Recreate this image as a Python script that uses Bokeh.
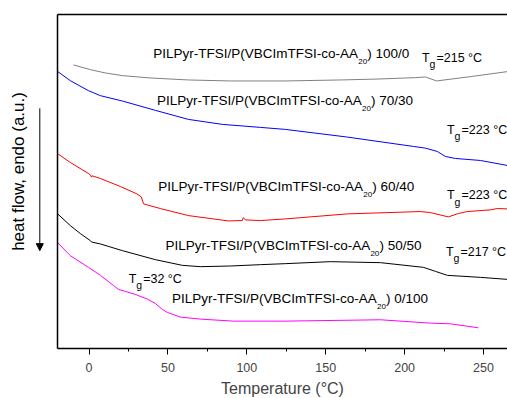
from bokeh.plotting import figure
from bokeh.layouts import row
from bokeh.models import (Range1d, LinearAxis, SingleIntervalTicker, FixedTicker,
                          Arrow, NormalHead)
from bokeh.core.properties import value
from bokeh.embed import file_html
from bokeh.resources import INLINE

# ---------------- data ----------------
t_100_0 = [-9.9, 0.8, 10.3, 21.1, 38.8, 62.9, 89.5, 124.4, 159.3, 184.6, 206.8, 213.2, 220.2, 241.8, 265.1]
hf_100_0 = [84.9, 83.5, 82.5, 81.7, 81.0, 80.4, 80.1, 80.1, 80.4, 80.7, 81.1, 81.3, 80.1, 81.4, 82.9]

t_70_30 = [-20.1, -11.9, -0.4, 7.2, 21.1, 42.0, 62.9, 84.5, 108.6, 124.4, 163.7, 205.5, 213.1, 220.7, 225.8, 232.1, 248.0, 265.1]
hf_70_30 = [83.0, 80.2, 77.2, 75.7, 74.1, 71.3, 68.6, 67.1, 66.2, 65.6, 63.3, 60.5, 60.0, 59.0, 57.5, 56.9, 56.3, 54.8]

t_60_40 = [-20.1, -11.9, -0.4, 1.0, 1.5, 2.0, 7.2, 19.8, 30.3, 33.1, 34.5, 45.2, 62.9, 88.3, 97.1, 97.8, 99.1, 108.6, 124.4, 163.7, 210.0, 216.3, 227.7, 234.0, 239.7, 254.3, 258.7, 265.1]
hf_60_40 = [58.4, 55.7, 52.4, 51.9, 51.3, 51.7, 50.9, 48.5, 46.3, 45.4, 43.3, 41.9, 39.8, 38.2, 38.3, 39.2, 38.5, 38.3, 38.8, 40.3, 41.0, 40.7, 39.4, 40.4, 41.0, 41.5, 41.9, 41.8]

t_50_50 = [-20.1, -11.9, -5.5, 0.8, 1.5, 7.2, 21.1, 42.0, 59.1, 70.5, 89.5, 108.6, 124.4, 152.9, 184.7, 211.9, 219.5, 227.1, 248.0, 265.1]
hf_50_50 = [40.4, 36.8, 34.4, 32.3, 31.9, 31.3, 29.3, 26.6, 24.9, 24.5, 24.7, 25.1, 25.4, 26.0, 25.7, 24.3, 23.1, 21.9, 21.3, 20.7]

t_0_100 = [-20.1, -11.9, -0.4, 7.2, 15.4, 18.6, 23.0, 29.3, 36.9, 42.0, 46.5, 49.6, 57.9, 70.5, 91.4, 124.4, 184.7, 216.3, 229.0, 246.7]
hf_0_100 = [31.8, 27.8, 24.3, 21.9, 18.9, 17.7, 17.1, 16.2, 14.8, 13.5, 11.7, 10.8, 9.4, 8.8, 8.2, 8.2, 8.6, 7.6, 7.4, 6.2]

# text content
name_prefix = "PILPyr-TFSI/P(VBCImTFSI-co-AA"
name_sub = "20"
ratios = ["100/0", "70/30", "60/40", "50/50", "0/100"]
tg_values = ["215", "223", "223", "217", "32"]
y_title = "heat flow, endo (a.u.)"
x_title = "Temperature (°C)"

# ---------------- annotation positions ----------------
name_x = [40.7, 43.1, 43.9, 48.4, 52.6]
name_y = [86.7, 72.8, 47.1, 29.3, 13.4]
tg_x = [211.0, 226.9, 226.9, 226.2, 25.1]
tg_y = [85.7, 64.1, 44.5, 27.5, 19.4]
# y title / arrow in the left strip (same vertical units as the plot)
y_title_pos = (18, 53.0)
arrow_x = 39.3
arrow_y = (71.9, 29.3)

FONT_NAME = "Liberation Sans"
FONT = value(FONT_NAME)
LEFT_W = 50

# ---------------- main plot ----------------
p = figure(frame_width=450, frame_height=334,
           x_range=Range1d(-20, 265.2), y_range=Range1d(0, 100),
           output_backend="svg", toolbar_location=None,
           min_border_left=7, min_border_right=0, min_border_top=14, min_border_bottom=0,
           x_axis_label=x_title)
p.grid.visible = False
p.outline_line_color = None
p.background_fill_color = "white"

series = [
    (t_100_0, hf_100_0, "#808080"),
    (t_70_30, hf_70_30, "#0000ff"),
    (t_60_40, hf_60_40, "#ff0000"),
    (t_50_50, hf_50_50, "#000000"),
    (t_0_100, hf_0_100, "#ff00ff"),
]
for t, hf, c in series:
    p.line(t, hf, line_color=c, line_width=1)

common = dict(text_font=FONT, text_color="black", text_baseline="alphabetic", text_align="left")
p.text(x=name_x, y=name_y, text=[name_prefix] * len(ratios), y_offset=-5,
       text_font_size="13.5px", **common)
p.text(x=name_x, y=name_y, text=[name_sub] * len(ratios), x_offset=205, y_offset=3,
       text_font_size="8px", **common)
p.text(x=name_x, y=name_y, text=[") " + r for r in ratios], x_offset=214, y_offset=-5,
       text_font_size="13.5px", **common)

p.text(x=tg_x, y=tg_y, text=["T"] * len(tg_values), y_offset=-4.5,
       text_font_size="12.5px", **common)
p.text(x=tg_x, y=tg_y, text=["g"] * len(tg_values), x_offset=7.5, y_offset=1.7,
       text_font_size="10.5px", **common)
p.text(x=tg_x, y=tg_y, text=["=" + v + " °C" for v in tg_values], x_offset=14.5, y_offset=-4.5,
       text_font_size="12.5px", **common)

xa = p.xaxis[0]
xa.ticker = SingleIntervalTicker(interval=50, num_minor_ticks=2)
xa.major_tick_in = 0
xa.major_tick_out = 6
xa.minor_tick_in = 0
xa.minor_tick_out = 3
xa.axis_line_width = 1.5
xa.major_label_text_font = FONT_NAME
xa.major_label_text_font_size = "12.5px"
xa.major_label_standoff = 8
xa.axis_label_text_font = FONT_NAME
xa.axis_label_text_font_size = "16px"
xa.axis_label_text_font_style = "normal"
xa.axis_label_standoff = 5

ya = p.yaxis[0]
ya.ticker = FixedTicker(ticks=[])
ya.major_tick_out = 0
ya.minor_tick_out = 0
ya.axis_line_width = 1.5

top = LinearAxis(ticker=FixedTicker(ticks=[]), axis_line_width=1.5,
                 major_tick_out=0, minor_tick_out=0)
p.add_layout(top, "above")

# ---------------- left strip: y title and arrow ----------------
side = figure(frame_width=LEFT_W, frame_height=334,
              x_range=Range1d(0, LEFT_W), y_range=Range1d(0, 100),
              x_axis_type=None, y_axis_type=None, output_backend="svg",
              toolbar_location=None, min_border=0)
side.outline_line_color = None
side.grid.visible = False
side.text(x=[y_title_pos[0]], y=[y_title_pos[1]], text=[y_title], angle=90, angle_units="deg",
          text_align="center", text_baseline="middle", text_font=FONT,
          text_font_size="17px", text_color="black")
side.add_layout(Arrow(x_start=arrow_x, y_start=arrow_y[0], x_end=arrow_x, y_end=arrow_y[1],
                      line_width=1, line_color="black",
                      end=NormalHead(size=7, fill_color="black", line_color="black")))

layout = row(side, p, spacing=0)
open("out.html", "w").write(file_html(layout, INLINE))
